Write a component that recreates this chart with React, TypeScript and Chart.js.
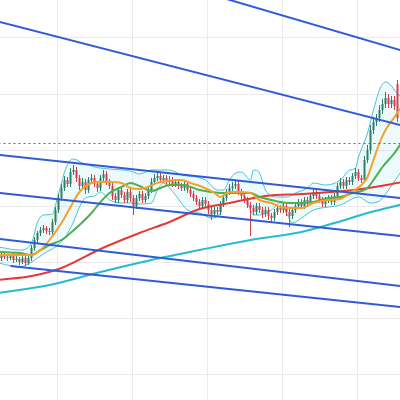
import React, { useEffect, useRef } from "react";
import { Chart, registerables } from "chart.js";

Chart.register(...registerables);

// OHLC candles (one per session)
const opens = [142,145,143,142,144,140,141,138,142,137, 142,152,160,167,170,172,169,168,178,190, 202,212,220,216,228,230,222,214,218,210, 220,222,216,212,222,226,218,214,204,200, 210,205,200,208,202,194,202,206,200,204, 210,218,222,224,220,222,218,220,216,218, 214,212,216,210,206,202,198,194,200,196, 190,186,190,188,196,202,208,212,214,216, 208,204,200,195,192,188,194,190,186,190, 184,182,188,192,190,194,188,184,190,194, 198,194,200,198,204,208,204,200,196,200, 202,198,204,214,218,214,220,218,224,228, 222,220,240,250,270,278,282,290,296,302, 296,300,316];
const highs = [148,147,146,146,147,144,143,145,144,145, 155,163,169,173,175,174,172,181,193,206, 216,224,223,232,235,233,225,222,221,223, 226,225,219,225,230,229,221,217,207,213, 214,208,211,211,205,205,209,209,207,213, 222,226,228,227,225,225,224,223,221,221, 217,219,219,213,209,205,201,203,203,199, 193,193,193,199,205,211,216,218,220,219, 211,207,203,198,195,197,197,193,193,193, 187,191,195,195,197,197,191,193,197,201, 201,203,203,207,211,211,207,203,203,205, 205,207,217,222,221,223,223,227,232,231, 225,244,255,275,283,286,295,301,308,306, 304,304,320];
const lows = [139,141,139,140,137,138,135,136,134,135, 139,149,157,164,167,166,165,165,175,187, 199,209,213,213,225,218,210,211,206,207, 217,213,208,209,219,215,211,200,197,197, 202,197,197,198,185,191,199,197,197,201, 207,215,219,217,217,215,215,213,213,211, 209,209,207,203,199,195,191,191,193,186, 180,183,185,185,193,199,205,209,211,205, 201,197,192,164,185,185,187,182,183,180, 178,179,185,187,187,184,173,181,187,191, 191,191,195,195,201,201,197,193,193,197, 195,195,201,211,211,211,215,215,221,219, 217,217,237,246,266,274,278,286,292,292, 292,290,278];
const closes = [145,143,142,144,140,141,138,142,137,142, 152,160,167,170,172,169,168,178,190,202, 212,220,216,228,230,222,214,218,210,220, 222,216,212,222,226,218,214,204,200,210, 205,200,208,202,194,202,206,200,204,210, 218,222,224,220,222,218,220,216,218,214, 212,216,210,206,202,198,194,200,196,190, 186,190,188,196,202,208,212,214,216,208, 204,200,195,192,188,194,190,186,190,184, 182,188,192,190,194,188,184,190,194,198, 194,200,198,204,208,204,200,196,200,202, 198,204,214,218,214,220,218,224,228,222, 220,240,250,270,278,282,290,296,302,296, 300,294,282];

// Moving averages [session, value]
const emaFast: [number, number][] = [[-1,145],[6,145],[10,145],[13,150],[16,160],[20,177],[23,193],[26,208],[30,217],[33,218],[36,218],[40,217],[43,212],[46,211],[53,218],[60,220],[63,217],[67,213],[71,207],[73,203],[75,207],[78,208],[83,207],[86,200],[90,197],[93,193],[96,192],[100,192],[104,197],[109,200],[113,201],[116,207],[120,215],[122,223],[124,240],[126,257],[128,270],[131,283],[134,296]];
const smaMid: [number, number][] = [[-1,148],[6,147],[10,145],[13,150],[16,155],[20,160],[23,167],[26,175],[30,187],[33,198],[36,207],[40,213],[43,217],[46,214],[50,209],[53,212],[56,215],[60,215],[63,213],[66,210],[70,208],[73,207],[76,207],[80,207],[83,207],[86,203],[90,200],[93,198],[96,197],[100,197],[104,198],[109,202],[113,203],[117,207],[122,212],[124,220],[127,233],[131,247],[134,260]];
const smaLong: [number, number][] = [[-1,120],[10,124],[20,132],[33,151],[46,167],[56,178],[66,191],[76,197],[88,204],[100,206],[110,208],[120,211],[134,218]];
const smaVeryLong: [number, number][] = [[-1,107],[16,115],[33,128],[50,140],[66,150],[83,160],[100,168],[111,177],[122,187],[134,196]];

// Bollinger bands
const bbUpper: [number, number][] = [[-1,153],[6,150],[10,157],[12,178],[14,185],[17,186],[18,195],[20,217],[21,228],[23,240],[24,241],[27,237],[31,233],[36,231],[43,229],[46,226],[50,230],[56,230],[60,225],[65,223],[68,220],[72,210],[74,210],[76,220],[78,227],[80,228],[83,220],[84,230],[86,227],[88,210],[92,203],[95,203],[98,207],[102,212],[104,217],[108,215],[113,220],[116,230],[118,232],[119,243],[122,267],[124,290],[126,310],[128,318],[129,317],[131,310],[134,300]];
const bbLower: [number, number][] = [[-1,137],[6,133],[10,138],[15,148],[18,153],[21,162],[24,178],[26,193],[28,202],[31,204],[33,208],[36,200],[40,197],[43,197],[46,196],[50,197],[52,210],[54,217],[56,212],[58,205],[62,190],[66,187],[70,182],[73,187],[74,203],[76,207],[80,207],[82,197],[84,185],[86,185],[90,190],[93,197],[95,187],[97,177],[100,182],[104,190],[109,193],[113,195],[119,203],[123,197],[126,199],[129,210],[134,232]];

// Trend lines [session, value] endpoints
const trendLines: [number, number][][] = [
  [[-1,468],[134,349]],
  [[-1,378.4],[134,274.1]],
  [[-1,245.2],[134,201.6]],
  [[-1,207.2],[134,163.6]],
  [[-1,161.2],[134,113.6]],
  [[3,134.1],[134,92.6]],
];
const alertLevel = 256.5;

const xGridTicks = [18.5, 43.5, 68.5, 93.5, 118.5];
const yGridTicks = [26, 82, 138, 194, 250, 306, 362];

export default function App() {
  const ref = useRef<HTMLCanvasElement>(null);
  useEffect(() => {
    if (!ref.current) return;
    const up = "#2c8066";
    const down = "#d23f49";
    const colors = closes.map((c, i) => (c >= opens[i] ? up : down));
    const pts = (a: [number, number][]) => a.map(([x, y]) => ({ x, y }));
    const lineDs = (label: string, data: [number, number][], color: string, width: number, order: number, extra: any = {}) => ({
      type: "line" as const,
      label,
      data: pts(data),
      borderColor: color,
      borderWidth: width,
      pointRadius: 0,
      fill: false,
      order,
      cubicInterpolationMode: "monotone" as const,
      ...extra,
    });
    const chart = new Chart(ref.current, {
      type: "bar",
      data: {
        datasets: [
          ...trendLines.map((l, k) => lineDs("trend" + k, l, "#2f5bd6", 2, 0, { cubicInterpolationMode: "default", tension: 0 })),
          lineDs("alert", [[-1, alertLevel], [134, alertLevel]], "#e0353a", 1, 1, { borderDash: [2, 3], tension: 0, cubicInterpolationMode: "default" }),
          lineDs("ema", emaFast, "#f4a12a", 2, 2),
          lineDs("sma50", smaMid, "#4caf50", 2, 2),
          lineDs("sma100", smaLong, "#e53935", 2, 3),
          lineDs("sma200", smaVeryLong, "#26bcd0", 2, 3),
          {
            type: "bar",
            label: "body",
            data: closes.map((c, i) => ({ x: i, y: [opens[i], c] })),
            backgroundColor: colors,
            grouped: false,
            maxBarThickness: 2,
            minBarLength: 1,
            order: 4,
          },
          {
            type: "bar",
            label: "wick",
            data: highs.map((h, i) => ({ x: i, y: [lows[i], h] })),
            backgroundColor: colors,
            grouped: false,
            maxBarThickness: 1,
            order: 5,
          },
          lineDs("bbUpper", bbUpper, "#4dbfd0", 1, 6),
          lineDs("bbLower", bbLower, "#4dbfd0", 1, 6, { fill: "-1", backgroundColor: "rgba(0,188,212,0.07)" }),
        ] as any,
      },
      options: {
        responsive: false,
        animation: false,
        layout: { padding: 0, autoPadding: false },
        plugins: { legend: { display: false }, tooltip: { enabled: false } },
        scales: {
          x: {
            type: "linear",
            min: -0.5,
            max: 132.8333,
            offset: false,
            grid: { color: "#ebebeb", lineWidth: 1, drawTicks: false, offset: false },
            border: { display: false },
            ticks: { display: false },
            afterBuildTicks: (s: any) => {
              s.ticks = xGridTicks.map((v) => ({ value: v }));
            },
          },
          y: {
            type: "linear",
            min: 0,
            max: 400,
            grid: { color: "#ebebeb", lineWidth: 1, drawTicks: false },
            border: { display: false },
            ticks: { display: false },
            afterBuildTicks: (s: any) => {
              s.ticks = yGridTicks.map((v) => ({ value: v }));
            },
          },
        },
      } as any,
    });
    return () => chart.destroy();
  }, []);
  return (
    <div style={{ position: "fixed", left: 0, top: 0, width: 400, height: 400, background: "#fff" }}>
      <canvas ref={ref} width={400} height={400} style={{ display: "block" }} />
    </div>
  );
}
